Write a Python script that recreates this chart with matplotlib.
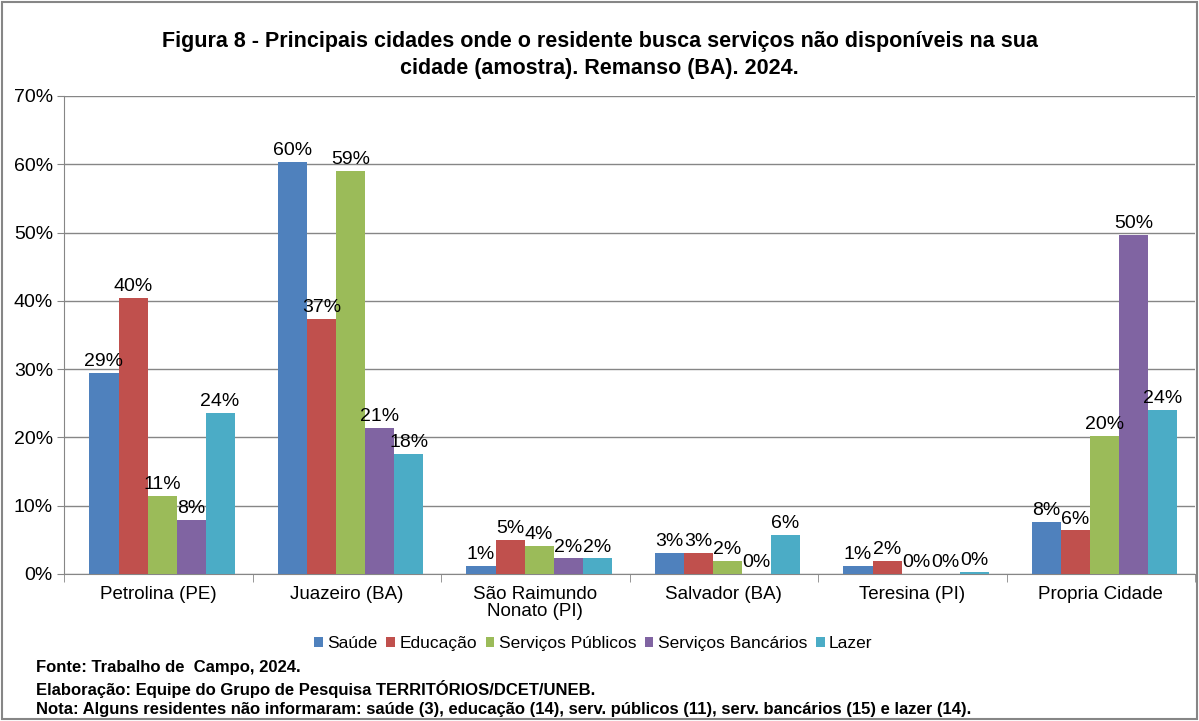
import matplotlib
matplotlib.use('Agg')
import matplotlib.pyplot as plt
import numpy as np
from matplotlib.patches import Rectangle

plt.rcParams['font.family'] = ['Liberation Sans', 'DejaVu Sans']

cidades = ['Petrolina (PE)', 'Juazeiro (BA)', 'São Raimundo\nNonato (PI)',
           'Salvador (BA)', 'Teresina (PI)', 'Propria Cidade']
series = ['Saúde', 'Educação', 'Serviços Públicos', 'Serviços Bancários', 'Lazer']
saude = [29.4, 60.3, 1.2, 3.1, 1.2, 7.6]
educacao = [40.4, 37.4, 5.0, 3.1, 1.9, 6.4]
serv_publicos = [11.4, 59.0, 4.1, 1.9, 0.0, 20.2]
serv_bancarios = [7.9, 21.4, 2.3, 0.0, 0.0, 49.6]
lazer = [23.6, 17.6, 2.3, 5.7, 0.3, 24.0]
cores = ['#4F81BD', '#C0504D', '#9BBB59', '#8064A2', '#4BACC6']
yticks = [0, 10, 20, 30, 40, 50, 60, 70]

fig = plt.figure(figsize=(11.99, 7.21), dpi=100)
ax = fig.add_axes([0.0534, 0.2039, 0.9433, 0.663])

dados = [saude, educacao, serv_publicos, serv_bancarios, lazer]
x = np.arange(len(cidades))
w = 0.154
for i, (vals, nome, cor) in enumerate(zip(dados, series, cores)):
    pos = x + (i - 2) * w + 0.02
    ax.bar(pos, vals, width=w, color=cor, label=nome, zorder=3)
    for p, v in zip(pos, vals):
        ax.annotate('%d%%' % round(v), (p, v), xytext=(0, 2), textcoords='offset points',
                    ha='center', va='bottom', fontsize=14, zorder=4)

ax.set_xlim(-0.5, len(cidades) - 0.5)
ax.set_ylim(0, 70)
ax.set_yticks(yticks)
ax.set_yticklabels(['%d%%' % t for t in yticks], fontsize=14)
ax.yaxis.grid(True, color='#868686', linewidth=1, zorder=0)
ax.set_xticks(x)
ax.set_xticklabels(cidades, fontsize=13.5, linespacing=1.0)
ax.tick_params(axis='x', length=0, pad=9)
ax.set_xticks(np.arange(-0.5, len(cidades)), minor=True)
ax.tick_params(axis='x', which='minor', length=6, color='#868686')
ax.tick_params(axis='y', length=5, color='#868686', pad=3)
for s in ['top', 'right']:
    ax.spines[s].set_visible(False)
ax.spines['left'].set_color('#868686')
ax.spines['bottom'].set_color('#868686')

ax.legend(loc='center', bbox_to_anchor=(0.468, -0.145), ncol=5, frameon=False,
          fontsize=12.5, handlelength=0.5, handleheight=0.5, handletextpad=0.25,
          columnspacing=0.5)

fig.text(0.5, 0.942, 'Figura 8 - Principais cidades onde o residente busca serviços não disponíveis na sua',
         ha='center', va='center', fontsize=15.5, fontweight='bold')
fig.text(0.5, 0.905, 'cidade (amostra). Remanso (BA). 2024.',
         ha='center', va='center', fontsize=15.5, fontweight='bold')

rodape = ['Fonte: Trabalho de  Campo, 2024.',
          'Elaboração: Equipe do Grupo de Pesquisa TERRITÓRIOS/DCET/UNEB.',
          'Nota: Alguns residentes não informaram: saúde (3), educação (14), serv. públicos (11), serv. bancários (15) e lazer (14).']
for k, t in enumerate(rodape):
    fig.text(0.03, 0.074 - k * 0.029, t, ha='left', va='center', fontsize=12,
             fontweight='bold')

fig.patches.append(Rectangle((0.002, 0.003), 0.996, 0.994, transform=fig.transFigure,
                             fill=False, edgecolor='#868686', linewidth=1.5))

fig.savefig('out.png', dpi=100)
